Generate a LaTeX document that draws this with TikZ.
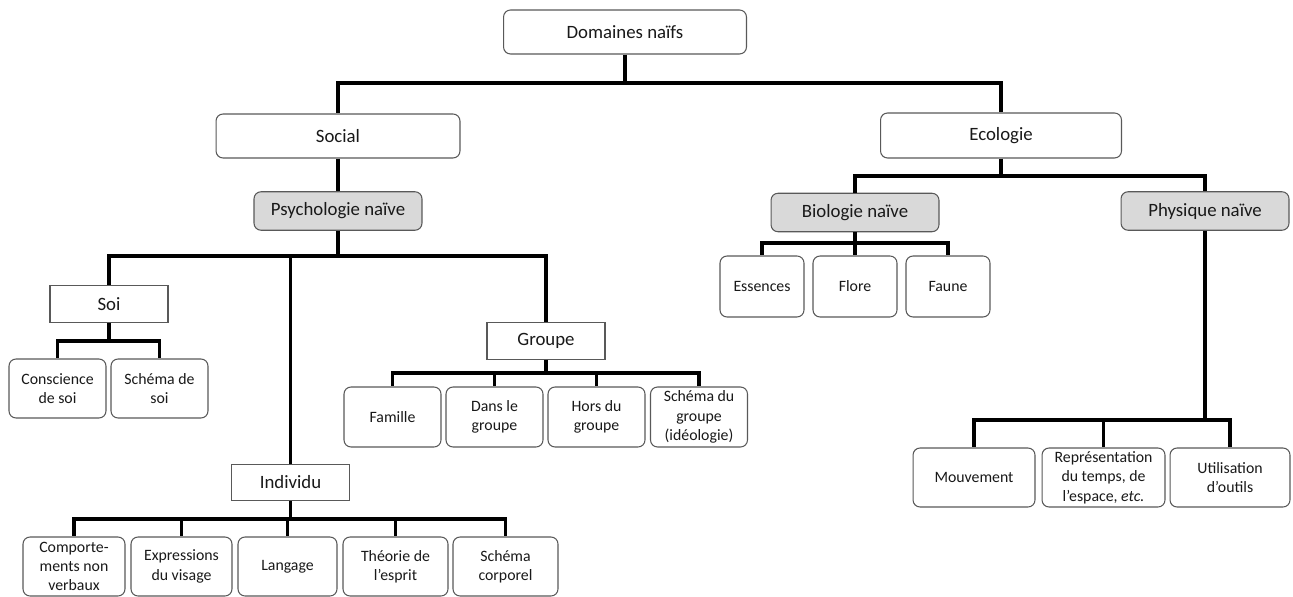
\documentclass[tikz,border=0pt]{standalone}
\usepackage{fontspec}
\setmainfont{Carlito}
\begin{document}
\begin{tikzpicture}[x=0.02cm,y=-0.02cm,
  rbox/.style={draw=black!65,line width=0.6pt,rounded corners=4pt,fill=white,align=center,inner sep=1pt,text=black!90,font=\fontsize{10.7}{13}\selectfont},
  gbox/.style={rbox,fill=black!15,minimum width=3.36cm,minimum height=0.77cm},
  sbox/.style={rbox,sharp corners,minimum width=2.36cm,minimum height=0.73cm},
  leaf/.style={rbox,font=\fontsize{9}{11}\selectfont,minimum height=1.18cm},
  link/.style={line width=2pt}]
\useasboundingbox (0,0) rectangle (1293,597);

\node [rbox,minimum width=4.86cm,minimum height=0.88cm] (dom) at (625,32) {Domaines naïfs};

\node [rbox,minimum width=4.88cm,minimum height=0.88cm] (soc) at (338,136) {Social};
\node [rbox,minimum width=4.82cm,minimum height=0.9cm] (eco) at (1001,135.5) {Ecologie};

\node [gbox] (psy) at (338,211) {Psychologie naïve};
\node [gbox] (bio) at (855,212.5) {Biologie naïve};
\node [gbox] (phy) at (1205,211) {Physique naïve};

\node [sbox] (soi) at (109,304) {Soi};
\node [sbox] (grp) at (546,341) {Groupe};
\node [sbox] (ind) at (290.5,482.5) {Individu};

% soi
\node [leaf,minimum width=1.94cm] (cons) at (57.5,388.5) {Conscience\\de soi};
\node [leaf,minimum width=1.94cm] (ssoi) at (159.5,388.5) {Schéma de\\soi};

% groupe
\node [leaf,minimum width=1.94cm,minimum height=1.2cm] (fam) at (392.5,417) {Famille};
\node [leaf,minimum width=1.94cm,minimum height=1.2cm] (dans) at (494.5,417) {Dans le\\groupe};
\node [leaf,minimum width=1.94cm,minimum height=1.2cm] (hors) at (596.5,417) {Hors du\\groupe};
\node [leaf,minimum width=1.94cm,minimum height=1.2cm] (sgrp) at (699,417) {Schéma du\\groupe\\(idéologie)};

% individu
\node [leaf,minimum width=2.04cm] (comp) at (74,566.5) {Comporte-\\ments non\\verbaux};
\node [leaf,minimum width=2.02cm] (expr) at (181.5,566.5) {Expressions\\du visage};
\node [leaf,minimum width=1.98cm] (lang) at (287.5,566.5) {Langage};
\node [leaf,minimum width=2.1cm] (theo) at (395.5,566.5) {Théorie de\\l’esprit};
\node [leaf,minimum width=2.1cm] (scor) at (505.5,566.5) {Schéma\\corporel};

% biologie
\node [leaf,minimum width=1.68cm,minimum height=1.22cm] (ess) at (762,286.5) {Essences};
\node [leaf,minimum width=1.68cm,minimum height=1.22cm] (flo) at (855,286.5) {Flore};
\node [leaf,minimum width=1.68cm,minimum height=1.22cm] (fau) at (948,286.5) {Faune};

% physique
\node [leaf,minimum width=2.44cm] (mvt) at (974,477.5) {Mouvement};
\node [leaf,minimum width=2.46cm] (rep) at (1103.5,477.5) {Représentation\\du temps, de\\l’espace, \textit{etc.}};
\node [leaf,minimum width=2.4cm] (uti) at (1230,477.5) {Utilisation\\d’outils};

\coordinate (b0) at (625,83);
\coordinate (b1) at (338,256);
\coordinate (b2) at (109,341);
\coordinate (b3) at (546,373);
\coordinate (b4) at (290.5,519);
\coordinate (b5) at (1001,176);
\coordinate (b6) at (855,243);
\coordinate (b7) at (1205,420);

\draw [link] (dom.south) -- (b0) -| (soc.north);
\draw [link] (b0) -| (eco.north);
\draw [link] (soc.south) -- (psy.north);
\draw [link] (eco.south) -- (b5) -| (bio.north);
\draw [link] (b5) -| (phy.north);

\draw [link] (psy.south) -- (b1) -| (soi.north);
\draw [link] (b1) -| (ind.north);
\draw [link] (b1) -| (grp.north);

\draw [link] (soi.south) -- (b2) -| (cons.north);
\draw [link] (b2) -| (ssoi.north);

\draw [link] (grp.south) -- (b3) -| (fam.north);
\draw [link] (b3) -| (dans.north);
\draw [link] (b3) -| (hors.north);
\draw [link] (b3) -| (sgrp.north);

\draw [link] (ind.south) -- (b4) -| (comp.north);
\draw [link] (b4) -| (expr.north);
\draw [link] (b4) -| (lang.north);
\draw [link] (b4) -| (theo.north);
\draw [link] (b4) -| (scor.north);

\draw [link] (bio.south) -- (b6) -| (ess.north);
\draw [link] (b6) -- (flo.north);
\draw [link] (b6) -| (fau.north);

\draw [link] (phy.south) -- (b7) -| (mvt.north);
\draw [link] (b7) -| (rep.north);
\draw [link] (b7) -| (uti.north);

\end{tikzpicture}
\end{document}
